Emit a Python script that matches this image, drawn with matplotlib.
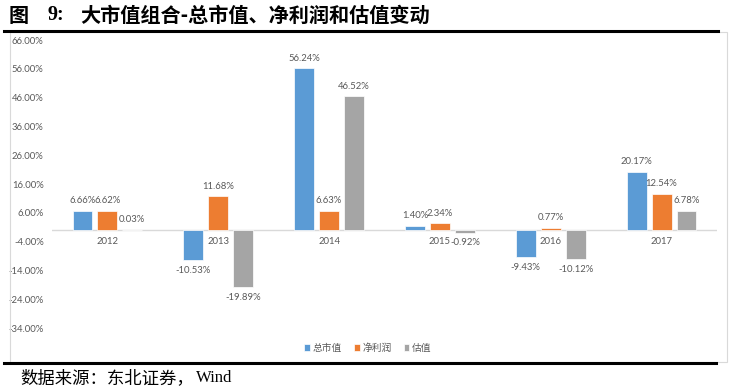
import matplotlib
matplotlib.use("Agg")
import matplotlib.pyplot as plt
from matplotlib.patches import Rectangle
from matplotlib.lines import Line2D
import numpy as np

plt.rcParams['font.family'] = ['Noto Sans CJK SC', 'DejaVu Sans']

categories = ['2012', '2013', '2014', '2015', '2016', '2017']
series_names = ['总市值', '净利润', '估值']
mktcap = [6.66, -10.53, 56.24, 1.40, -9.43, 20.17]
profit = [6.62, 11.68, 6.63, 2.34, 0.77, 12.54]
valuation = [0.03, -19.89, 46.52, -0.92, -10.12, 6.78]
yticks = [66, 56, 46, 36, 26, 16, 6, -4, -14, -24, -34]
colors = ['#5B9BD5', '#ED7D31', '#A5A5A5']
txt_gray = '#595959'
num_font = 'Lato'

W, H = 731, 390
fig = plt.figure(figsize=(W / 100, H / 100), dpi=100)

def fx(px):
    return px / W

def fy(py):
    return 1 - py / H

# chart frame
fig.patches.append(Rectangle((fx(10), fy(362)), fx(727) - fx(10), fy(32) - fy(362),
                             transform=fig.transFigure, fill=False, edgecolor='#D9D9D9', lw=0.8))
# black rules
fig.add_artist(Line2D([fx(4), fx(718)], [fy(31), fy(31)], color='black', lw=2.2, transform=fig.transFigure))
fig.add_artist(Line2D([fx(4), fx(716)], [fy(362.5), fy(362.5)], color='black', lw=2.2, transform=fig.transFigure))

fig.text(fx(9), fy(15), '图', fontsize=14.5, fontweight='bold', va='center', ha='left', color='black')
fig.text(fx(47), fy(15), '9:', fontsize=14.5, fontweight='bold', va='center', ha='left', color='black',
         family='Liberation Serif')
fig.text(fx(80), fy(15), '大市值组合-总市值、净利润和估值变动', fontsize=14.5, fontweight='bold',
         va='center', ha='left', color='black')
fig.text(fx(20), fy(378), '数据来源：东北证券，', fontsize=12.5, va='center', ha='left', color='black')
fig.text(fx(196), fy(378), 'Wind', fontsize=12, va='center', ha='left', color='black',
         family='Liberation Serif')

ax = fig.add_axes([fx(52), fy(328), fx(717) - fx(52), fy(40) - fy(328)])
ax.set_xlim(-0.5, len(categories) - 0.5)
ax.set_ylim(-34, 66)
for s in ax.spines.values():
    s.set_visible(False)
ax.set_xticks([])
ax.set_yticks(yticks)
ax.set_yticklabels([f'{v:.2f}%' for v in yticks], fontsize=6.8, color=txt_gray, family=num_font)
ax.tick_params(axis='y', length=0, pad=6)
ax.axhline(0, color='#D9D9D9', lw=1, zorder=1)

x = np.arange(len(categories))
bw = 0.18
off = 0.225
all_series = [mktcap, profit, valuation]
for k, (vals, c) in enumerate(zip(all_series, colors)):
    xs = x + (k - 1) * off
    ax.bar(xs, vals, width=bw, color=c, edgecolor='white', lw=0.5, zorder=2,
           label=series_names[k])
    for xi, v in zip(xs, vals):
        if v >= 0:
            ax.annotate(f'{v:.2f}%', (xi, v), xytext=(0, 4), textcoords='offset points',
                        ha='center', va='bottom', fontsize=6.8, color=txt_gray,
                        family=num_font)
        else:
            ax.annotate(f'{v:.2f}%', (xi, v), xytext=(0, -4), textcoords='offset points',
                        ha='center', va='top', fontsize=6.8, color=txt_gray,
                        family=num_font)

for xi, cat in zip(x, categories):
    ax.annotate(cat, (xi, 0), xytext=(0, -5), textcoords='offset points', ha='center', va='top',
                fontsize=6.8, color=txt_gray, family=num_font)

leg = fig.legend(loc='center', bbox_to_anchor=(fx(368), fy(348)), ncol=3, frameon=False,
                 fontsize=7, handlelength=0.6, handleheight=0.6, handletextpad=0.3,
                 columnspacing=1.2)
for t in leg.get_texts():
    t.set_color(txt_gray)

fig.savefig('out.png', dpi=100)
